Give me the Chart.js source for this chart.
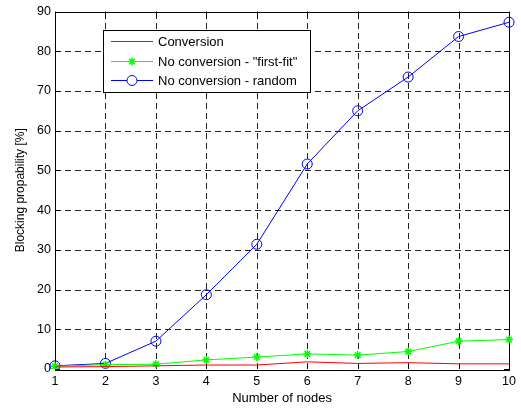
<!DOCTYPE html>
<html><head><meta charset="utf-8">
<script src="https://cdn.jsdelivr.net/npm/chart.js@4"></script>
<style>html,body{margin:0;padding:0;background:#fff}#wrap{width:521px;height:412px}</style>
</head><body><div id="wrap"><canvas id="c" width="521" height="412"></canvas></div>
<script>
const nodes = [1,2,3,4,5,6,7,8,9,10];
const conversion = [0.5,0.6,0.8,1.0,1.0,1.8,1.4,1.6,1.3,1.3];
const firstFit = [0.7,1.1,1.2,2.3,3.0,3.8,3.5,4.4,7.0,7.4];
const random = [0.8,1.4,7.0,18.7,31.4,51.6,65.0,73.5,83.7,87.3];
const yTicks = [0,10,20,30,40,50,60,70,80,90];
const labels = ["Conversion", "No conversion - \"first-fit\"", "No conversion - random"];
const colors = ['#ff0000', '#00ff00', '#0000ff'];

const FONT = "'Liberation Sans', Arial, sans-serif";

const boxPlugin = {
  id: 'box',
  beforeDraw(chart) {
    const {ctx} = chart;
    ctx.save(); ctx.fillStyle = '#fff'; ctx.fillRect(0, 0, chart.width, chart.height); ctx.restore();
  },
  beforeDatasetsDraw(chart) {
    const {ctx, chartArea: a} = chart;
    const xs = chart.scales.x, ys = chart.scales.y;
    ctx.save();
    ctx.strokeStyle = '#222'; ctx.lineWidth = 1; ctx.setLineDash([6,4]);
    ctx.beginPath();
    for (let i = 1; i < nodes.length - 1; i++) {
      const px = Math.round(xs.getPixelForValue(i)) + 0.5;
      ctx.moveTo(px, a.bottom); ctx.lineTo(px, a.top);
    }
    for (const v of yTicks) {
      if (v === 0 || v === 90) continue;
      const py = Math.round(ys.getPixelForValue(v)) + 0.5;
      ctx.moveTo(a.left, py); ctx.lineTo(a.right, py);
    }
    ctx.stroke();
    ctx.setLineDash([]);
    ctx.strokeStyle = '#000';
    ctx.beginPath();
    for (let i = 0; i < nodes.length; i++) {
      const px = Math.round(xs.getPixelForValue(i)) + 0.5;
      ctx.moveTo(px, a.bottom); ctx.lineTo(px, a.bottom - 5);
      ctx.moveTo(px, a.top); ctx.lineTo(px, a.top + 5);
    }
    for (const v of yTicks) {
      const py = Math.round(ys.getPixelForValue(v)) + 0.5;
      ctx.moveTo(a.left, py); ctx.lineTo(a.left + 5, py);
      ctx.moveTo(a.right, py); ctx.lineTo(a.right - 5, py);
    }
    ctx.stroke();
    ctx.strokeRect(Math.round(a.left)+0.5, Math.round(a.top)+0.5, Math.round(a.right-a.left), Math.round(a.bottom-a.top));
    ctx.restore();
  },
  afterDraw(chart) {
    const {ctx} = chart;
    const L = 103.5, T = 30.5, W = 207, H = 62;
    ctx.save();
    ctx.fillStyle = '#fff';
    ctx.fillRect(L, T, W, H);
    ctx.strokeStyle = '#000'; ctx.lineWidth = 1; ctx.setLineDash([]);
    ctx.strokeRect(L, T, W, H);
    const rows = [41.5, 61.5, 80.5];
    const styles = [null, 'star', 'circle'];
    const radii = [0, 4, 5];
    ctx.font = '13px ' + FONT;
    ctx.textBaseline = 'middle';
    labels.forEach((lab, i) => {
      const y = rows[i];
      ctx.strokeStyle = colors[i]; ctx.lineWidth = 1;
      ctx.beginPath(); ctx.moveTo(111, y); ctx.lineTo(153, y); ctx.stroke();
      if (styles[i]) {
        ctx.fillStyle = '#fff';
        ctx.strokeStyle = colors[i];
        ctx.lineWidth = i === 1 ? 1.5 : 1;
        Chart.helpers.drawPoint(ctx, {pointStyle: styles[i], radius: radii[i], borderWidth: ctx.lineWidth}, 132, y);
      }
      ctx.fillStyle = '#000';
      ctx.fillText(lab, 158, y + 0.5);
    });
    ctx.restore();
  }
};

new Chart(document.getElementById('c'), {
  type: 'line',
  data: {
    labels: nodes,
    datasets: [
      {label: labels[0], data: conversion, borderColor: colors[0], backgroundColor: 'transparent', borderWidth: 1, pointRadius: 0, tension: 0},
      {label: labels[1], data: firstFit, borderColor: colors[1], backgroundColor: 'transparent', pointBorderColor: colors[1], pointBackgroundColor: colors[1], borderWidth: 1, pointStyle: 'star', pointRadius: 4, pointBorderWidth: 1.5, tension: 0},
      {label: labels[2], data: random, borderColor: colors[2], backgroundColor: 'transparent', pointBorderColor: colors[2], pointBackgroundColor: 'transparent', borderWidth: 1, pointStyle: 'circle', pointRadius: 5, pointBorderWidth: 1, tension: 0}
    ]
  },
  options: {
    responsive: false,
    animation: false,
    devicePixelRatio: 1,
    layout: {padding: {left: 0, right: 10, top: 10, bottom: 0}},
    plugins: {legend: {display: false}, tooltip: {enabled: false}},
    scales: {
      x: {
        offset: false,
        grid: {display: false, drawTicks: false},
        border: {display: false},
        ticks: {color: '#000', font: {family: FONT, size: 12.5}, padding: 5, maxRotation: 0, autoSkip: false},
        title: {display: true, text: 'Number of nodes', color: '#000', font: {family: FONT, size: 13}, padding: {top: 0, bottom: 6}},
        afterFit(s) { s.height = 43; }
      },
      y: {
        min: 0, max: 90,
        afterBuildTicks(s) { s.ticks = yTicks.map(v => ({value: v})); },
        grid: {display: false, drawTicks: false},
        border: {display: false},
        ticks: {color: '#000', font: {family: FONT, size: 12.5}, padding: 4},
        title: {display: true, text: 'Blocking propability [%]', color: '#000', font: {family: FONT, size: 12}, padding: {top: 13, bottom: 0}},
        afterFit(s) { s.width = 55; }
      }
    }
  },
  plugins: [boxPlugin]
});
</script>
</body></html>
